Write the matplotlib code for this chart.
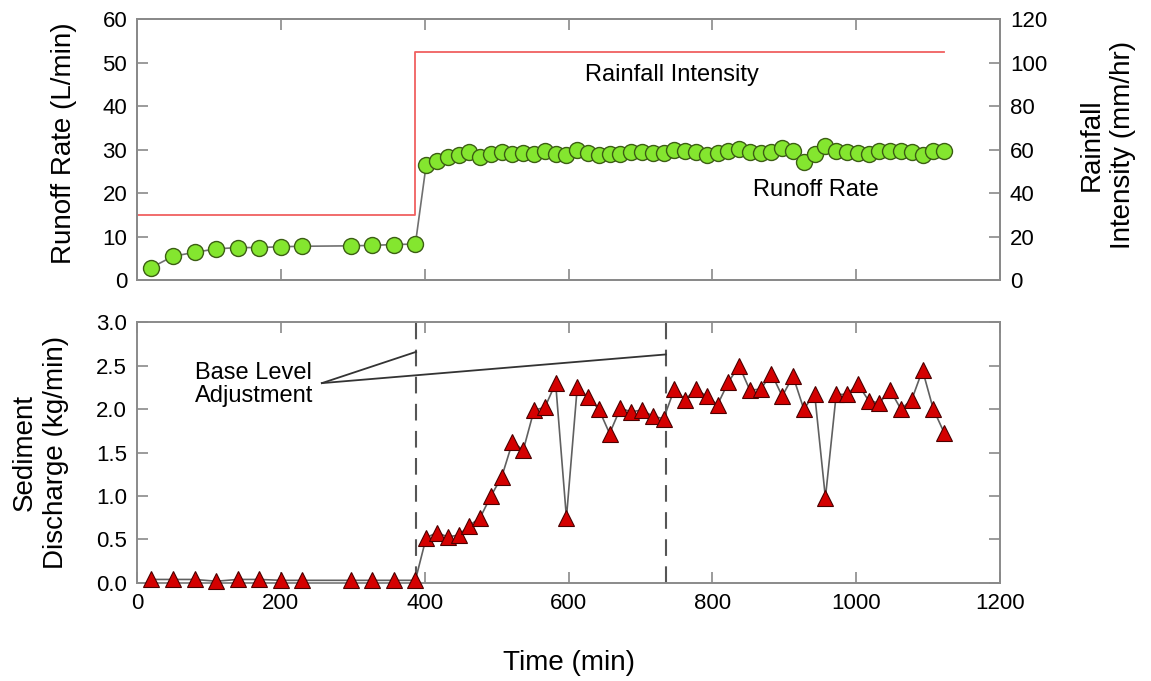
import matplotlib
matplotlib.use("Agg")
import matplotlib.pyplot as plt

plt.rcParams['font.family'] = ['Liberation Sans', 'DejaVu Sans']

# sampling times (min)
t_early = [20, 50, 80, 110, 140, 170, 200, 230, 297, 327, 357, 387]
t_late = [402, 417, 432, 447, 462, 477, 492, 507, 522, 537, 552, 567, 582,
          597, 612, 627, 642, 657, 672, 687, 702, 717, 732, 747, 762, 777,
          792, 807, 822, 837, 852, 867, 882, 897, 912, 927, 942, 957, 972,
          987, 1002, 1017, 1032, 1047, 1062, 1077, 1092, 1107, 1122]
time = t_early + t_late

runoff = [2.9, 5.5, 6.4, 7.2, 7.5, 7.5, 7.7, 7.8, 7.9, 8.0, 8.2, 8.3,
          26.5, 27.3, 28.3, 28.8, 29.4, 28.4, 29.0, 29.4, 29.0, 29.2, 29.0,
          29.7, 29.0, 28.7, 29.8, 29.3, 28.8, 29.1, 29.1, 29.4, 29.4, 29.2,
          29.2, 30.0, 29.6, 29.4, 28.7, 29.3, 29.6, 30.1, 29.4, 29.2, 29.4,
          30.3, 29.6, 27.1, 29.0, 30.9, 29.6, 29.4, 29.2, 29.0, 29.6, 29.7,
          29.6, 29.4, 28.8, 29.6, 29.6]

sediment = [0.04, 0.04, 0.04, 0.02, 0.04, 0.04, 0.03, 0.03, 0.03, 0.03, 0.03, 0.03,
            0.52, 0.58, 0.53, 0.55, 0.66, 0.75, 1.00, 1.22, 1.62, 1.53,
            1.99, 2.02, 2.30, 0.75, 2.25, 2.14, 2.00, 1.72, 2.01, 1.97,
            1.99, 1.92, 1.89, 2.23, 2.11, 2.23, 2.15, 2.05, 2.31, 2.50,
            2.22, 2.23, 2.41, 2.15, 2.38, 2.00, 2.18, 0.98, 2.17, 2.17,
            2.29, 2.10, 2.07, 2.22, 2.00, 2.11, 2.45, 2.00, 1.73]

rain_t = [0, 387, 387, 1122]
rain_i = [30, 30, 105, 105]

base_level_t = [388, 735]

spine_col = '#8a8a8a'
tick_fs = 16

fig = plt.figure(figsize=(11.51, 6.81), dpi=100)
ax1 = fig.add_axes([0.119, 0.5885, 0.750, 0.3836])
ax2 = fig.add_axes([0.119, 0.1440, 0.750, 0.3827])
ax1r = ax1.twinx()

# top panel
ax1.plot(time, runoff, color='#707070', lw=1.2, marker='o', ms=11.5,
         mfc='#84e62f', mec='#3c5e14', mew=1.0, zorder=3)
ax1r.plot(rain_t, rain_i, color='#f06060', lw=1.3)
ax1.set_ylim(0, 60)
ax1r.set_ylim(0, 120)
ax1.set_yticks([0, 10, 20, 30, 40, 50, 60])
ax1r.set_yticks([0, 20, 40, 60, 80, 100, 120])
ax1.set_zorder(ax1r.get_zorder() + 1)
ax1.patch.set_visible(False)

ax1.text(743, 47.2, 'Rainfall Intensity', fontsize=17, ha='center', va='center')
ax1.text(944, 20.8, 'Runoff Rate', fontsize=17, ha='center', va='center')

# bottom panel
ax2.plot(time, sediment, color='#606060', lw=1.2, marker='^', ms=11,
         mfc='#d40000', mec='#4a0000', mew=0.8, zorder=3, clip_on=False)
ax2.set_ylim(0, 3.0)
ax2.set_yticks([0.0, 0.5, 1.0, 1.5, 2.0, 2.5, 3.0])
ax2.set_yticklabels(['0.0', '0.5', '1.0', '1.5', '2.0', '2.5', '3.0'])
for tb in base_level_t:
    ax2.axvline(tb, color='#555555', lw=1.5, dashes=(8, 5), zorder=2)

ax2.text(80, 2.28, 'Base Level\nAdjustment', fontsize=17, ha='left', va='center',
         linespacing=1.05)
ax2.plot([257, 388], [2.30, 2.66], color='#333333', lw=1.3)
ax2.plot([257, 735], [2.30, 2.63], color='#333333', lw=1.3)
ax2.set_xlabel('Time (min)', fontsize=20, labelpad=26)

for ax in (ax1, ax2):
    ax.set_xlim(0, 1200)
    ax.set_xticks([0, 200, 400, 600, 800, 1000, 1200])
for ax in (ax1, ax2, ax1r):
    for sp in ax.spines.values():
        sp.set_color(spine_col)
        sp.set_linewidth(1.4)
    ax.tick_params(direction='in', length=8, width=1.2, color=spine_col,
                   labelsize=tick_fs, pad=7)
ax1.tick_params(axis='x', top=True, labelbottom=False)
ax2.tick_params(axis='x', top=True)
ax2.tick_params(axis='y', right=True)

fig.text(0.0556, 0.790, 'Runoff Rate (L/min)', fontsize=20, rotation=90,
         ha='center', va='center')
fig.text(0.035, 0.335, 'Sediment\nDischarge (kg/min)', fontsize=20, rotation=90,
         ha='center', va='center', linespacing=1.25)
fig.text(0.962, 0.787, 'Rainfall\nIntensity (mm/hr)', fontsize=20, rotation=90,
         ha='center', va='center', linespacing=1.25)

fig.savefig('out.png', dpi=100)
